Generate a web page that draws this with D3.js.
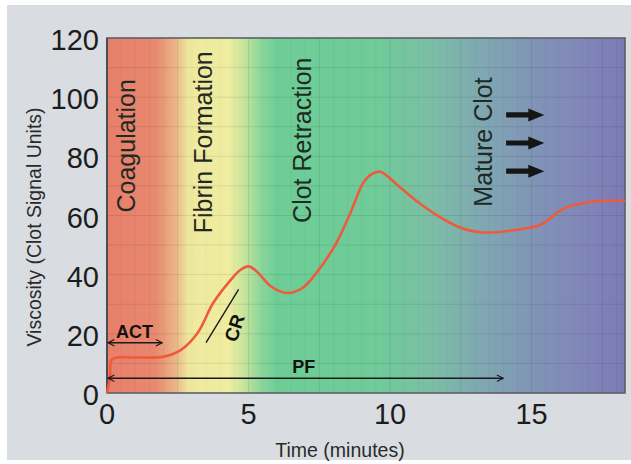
<!DOCTYPE html>
<html><head><meta charset="utf-8">
<script src="https://cdn.jsdelivr.net/npm/d3@7"></script>
<style>html,body{margin:0;padding:0;background:#fff;}svg{display:block;}</style>
</head><body>
<script>
// ---- data ----
const time = [0, 0.1, 0.16, 0.35, 1.0, 2.0, 2.6, 3.2, 3.75, 4.35, 4.7, 5.0, 5.3, 5.8, 6.35, 6.9, 7.4, 8.1, 8.6, 9.05, 9.35, 9.65, 10.3, 10.95, 11.75, 12.45, 13.2, 14.35, 15.3, 15.6, 15.9, 16.3, 16.7, 17.5, 18.3];
const viscosity = [0, 5, 11.2, 12, 12, 12.3, 14.5, 20.3, 30.4, 38, 41.5, 42.8, 41, 36, 33.8, 35.5, 40.6, 50.7, 60.9, 71, 74, 74.8, 70, 64.8, 59.5, 56, 54.3, 55, 56.8, 58.5, 61, 63, 64, 65, 65];
const xTicks = [0, 5, 10, 15];
const yTicks = [0, 20, 40, 60, 80, 100, 120];
const phases = ["Coagulation", "Fibrin Formation", "Clot Retraction", "Mature Clot"];
const phaseTimes = [1.0, 3.7, 7.2, 13.6];
const phaseStart = [61, 54, 57.5, 63];
const gradTimes = [0, 1.7, 2.4, 2.9, 4.3, 4.8, 5.4, 6.0, 9.5, 11.5, 13.2, 15.2, 17.2, 18.3];
const gradColors = ["#e77f6b", "#e8886f", "#eab487", "#efe99f", "#eeeda0", "#c9e59c", "#8ed79a", "#6ecd97", "#6fcb98", "#7cbda6", "#7fa8b1", "#8093b6", "#8084b8", "#7c79b3"];
const actRange = [0, 1.95], actLevel = 17;
const pfRange = [0, 14], pfLevel = 5;
const crLine = [[3.5, 17], [4.65, 35]];
const arrowLevels = [94, 84.5, 75];
const arrowRange = [14.1, 15.45];

const W = 631, H = 464;
const svg = d3.select("body").append("svg").attr("width", W).attr("height", H);
svg.append("rect").attr("x", 7).attr("y", 5).attr("width", W - 7).attr("height", 455).attr("fill", "#d9dde1");

const x = d3.scaleLinear().domain([0, 18.3]).range([107, 625]);
const y = d3.scaleLinear().domain([0, 120]).range([393, 38]);
const [x0, x1] = x.range(), [y0, y1] = y.range();

const defs = svg.append("defs");
const grad = defs.append("linearGradient").attr("id", "bg").attr("x1", 0).attr("x2", 1).attr("y1", 0).attr("y2", 0);
gradTimes.forEach((t, i) => grad.append("stop").attr("offset", (x(t) - x0) / (x1 - x0)).attr("stop-color", gradColors[i]));
defs.append("marker").attr("id", "ah").attr("viewBox", "0 0 10 10").attr("refX", 9).attr("refY", 5)
  .attr("markerWidth", 8).attr("markerHeight", 8).attr("markerUnits", "userSpaceOnUse").attr("orient", "auto-start-reverse")
  .append("path").attr("d", "M1,1 L9,5 L1,9").attr("fill", "none").attr("stroke", "#1a1a1a").attr("stroke-width", 1.4);

svg.append("rect").attr("x", x0).attr("y", y1).attr("width", x1 - x0).attr("height", y0 - y1).attr("fill", "url(#bg)");

// grid
const g = svg.append("g");
g.selectAll(".vm").data(d3.range(0.5, 18.3, 0.5)).join("line")
  .attr("x1", d => x(d)).attr("x2", d => x(d)).attr("y1", y1).attr("y2", y0)
  .attr("stroke", d => d % 2.5 === 0 ? "rgba(0,0,0,0.09)" : "rgba(0,0,0,0.035)").attr("stroke-width", 1);
g.selectAll(".hm").data(d3.range(10, 120, 10)).join("line")
  .attr("x1", x0).attr("x2", x1).attr("y1", d => y(d)).attr("y2", d => y(d))
  .attr("stroke", "rgba(0,0,0,0.09)").attr("stroke-width", 1);

svg.append("rect").attr("x", x0).attr("y", y1).attr("width", x1 - x0).attr("height", y0 - y1)
  .attr("fill", "none").attr("stroke", "#5c6066").attr("stroke-width", 1.6);
svg.append("line").attr("x1", x0).attr("x2", x0).attr("y1", y1).attr("y2", y0).attr("stroke", "#4a4d52").attr("stroke-width", 2);

// phase labels
const font = "'Liberation Sans', Arial, sans-serif";
svg.selectAll(".ph").data(phases).join("text")
  .attr("transform", (d, i) => `translate(${x(phaseTimes[i])},${y(phaseStart[i])}) rotate(-90)`)
  .attr("font-family", font).attr("font-size", 25).attr("fill", "#1f2a24").text(d => d);

// arrows
arrowLevels.forEach(v => {
  const yy = y(v), xa = x(arrowRange[0]), xb = x(arrowRange[1]);
  svg.append("path").attr("d", `M${xa},${yy - 2.6}L${xb - 16},${yy - 2.6}L${xb - 16},${yy - 6.5}L${xb},${yy}L${xb - 16},${yy + 6.5}L${xb - 16},${yy + 2.6}L${xa},${yy + 2.6}Z`)
    .attr("fill", "#151515");
});

// curve
const line = d3.line().x((d, i) => x(time[i])).y((d, i) => y(viscosity[i])).curve(d3.curveCatmullRom.alpha(0.5));
svg.append("path").attr("d", line(viscosity)).attr("fill", "none").attr("stroke", "#ef5a3c").attr("stroke-width", 2.6).attr("stroke-linejoin", "round");

// ACT
svg.append("line").attr("x1", x(actRange[0]) + 1).attr("x2", x(actRange[1])).attr("y1", y(actLevel)).attr("y2", y(actLevel))
  .attr("stroke", "#1a1a1a").attr("stroke-width", 1.4).attr("marker-start", "url(#ah)").attr("marker-end", "url(#ah)");
svg.append("text").attr("x", x((actRange[0] + actRange[1]) / 2)).attr("y", y(actLevel) - 5).attr("text-anchor", "middle")
  .attr("font-family", font).attr("font-weight", "bold").attr("font-size", 18).attr("fill", "#111").text("ACT");
// PF
svg.append("line").attr("x1", x(pfRange[0]) + 1).attr("x2", x(pfRange[1])).attr("y1", y(pfLevel)).attr("y2", y(pfLevel))
  .attr("stroke", "#1a1a1a").attr("stroke-width", 1.4).attr("marker-start", "url(#ah)").attr("marker-end", "url(#ah)");
svg.append("text").attr("x", x(6.95)).attr("y", y(pfLevel) - 5).attr("text-anchor", "middle")
  .attr("font-family", font).attr("font-weight", "bold").attr("font-size", 18).attr("fill", "#111").text("PF");
// CR
svg.append("line").attr("x1", x(crLine[0][0])).attr("y1", y(crLine[0][1])).attr("x2", x(crLine[1][0])).attr("y2", y(crLine[1][1]))
  .attr("stroke", "#1a1a1a").attr("stroke-width", 1.4);
svg.append("text").attr("transform", `translate(${x(4.5)},${y(22)}) rotate(-72)`).attr("text-anchor", "middle")
  .attr("dy", "0.35em").attr("font-family", font).attr("font-weight", "bold").attr("font-size", 19).attr("fill", "#111").text("CR");

// axes tick labels
svg.selectAll(".yt").data(yTicks).join("text").attr("x", 99).attr("y", d => y(d) + 2).attr("dy", "0.35em")
  .attr("text-anchor", "end").attr("font-family", font).attr("font-size", 29).attr("fill", "#1c1c1c").text(d => d);
svg.selectAll(".xt").data(xTicks).join("text").attr("x", d => x(d)).attr("y", 424)
  .attr("text-anchor", "middle").attr("font-family", font).attr("font-size", 29).attr("fill", "#1c1c1c").text(d => d);

svg.append("text").attr("x", 340).attr("y", 457).attr("text-anchor", "middle").attr("font-family", font)
  .attr("font-size", 19.5).attr("fill", "#2a2a2a").text("Time (minutes)");
svg.append("text").attr("transform", "translate(41,227) rotate(-90)").attr("text-anchor", "middle").attr("font-family", font)
  .attr("font-size", 19.5).attr("fill", "#2a2a2a").text("Viscosity (Clot Signal Units)");
</script>
</body></html>
